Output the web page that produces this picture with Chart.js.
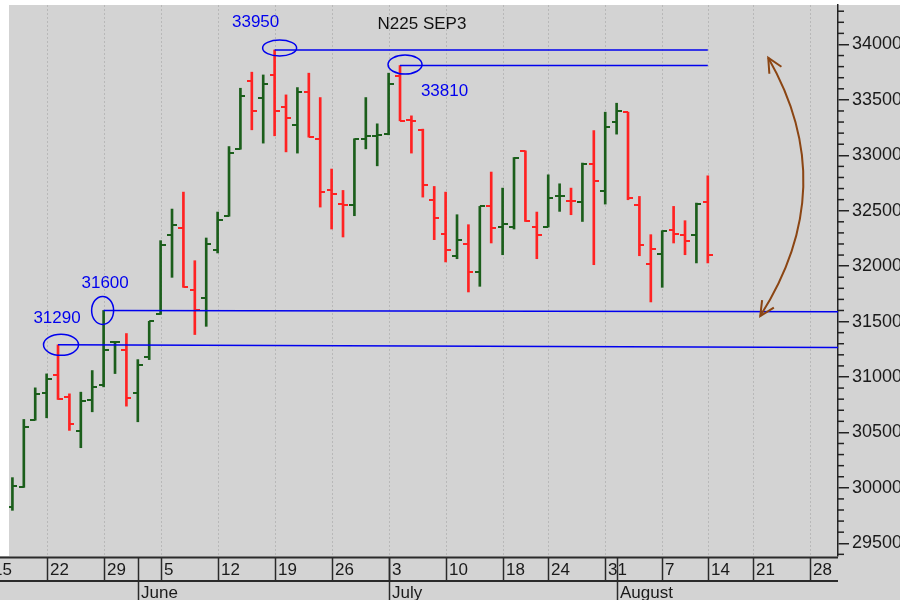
<!DOCTYPE html>
<html>
<head>
<meta charset="utf-8">
<script src="https://cdn.jsdelivr.net/npm/chart.js@4.4.0/dist/chart.umd.min.js"></script>
<style>
  html, body { margin: 0; padding: 0; background: #fff; }
  #wrap { width: 900px; height: 600px; }
</style>
</head>
<body>
<div id="wrap"><canvas id="chart" width="900" height="600"></canvas></div>
<script>
// N225 SEP3 daily OHLC, trading-day index 0 = May 17
const opens = [
  29827, 30007, 30614, 30860, 31016, 30821, 30511, 30794, 30932, 31315,
  31247, 30857, 31182, 31569, 32277, 32340, 31788, 31710, 32148, 32455,
  33061, 33674, 33515, 33725, 33440, 33272, 33569, 33146, 32689, 32563,
  32548, 33149, 33175, 33191, 33716, 33320, 33230, 32599, 32290, 32094,
  32200, 31944, 32539, 32353, 32353, 33040, 32353, 32353, 32630, 32590,
  32575, 32923, 32680, 33299, 33389, 32548, 32020, 32110, 32329, 32277,
  32277, 32575
];
const highs = [
  30092, 30617, 30902, 31028, 31290, 30848, 30863, 31058, 31600, 31320,
  31392, 31157, 31502, 32230, 32515, 32668, 32049, 32254, 32488, 33079,
  33605, 33750, 33725, 33950, 33545, 33611, 33741, 33521, 32876, 32683,
  33149, 33521, 33284, 33741, 33810, 33356, 33236, 32719, 32668, 32464,
  32374, 32539, 32849, 32704, 32980, 33040, 32488, 32824, 32743, 32704,
  32930, 33223, 33389, 33470, 33389, 32629, 32284, 32320, 32539, 32410,
  32569, 32815
];
const lows = [
  29797, 30004, 30610, 30632, 30797, 30518, 30362, 30686, 30911, 31031,
  30737, 30596, 31157, 31565, 31899, 31809, 31383, 31457, 32119, 32450,
  33055, 33230, 33110, 33176, 33031, 33020, 33164, 32533, 32335, 32263,
  32455, 33058, 32905, 33185, 33311, 33020, 32623, 32239, 32038, 32067,
  31767, 31818, 32209, 32103, 32335, 32403, 32067, 32353, 32494, 32464,
  32403, 32013, 32560, 33191, 32599, 32094, 31677, 31809, 32209, 32103,
  32029, 32029
];
const closes = [
  30019, 30547, 30848, 30986, 30803, 30578, 30782, 30911, 31241, 31320,
  30812, 31112, 31502, 32187, 32367, 31812, 31608, 32200, 32419, 33025,
  33539, 33401, 33644, 33401, 33335, 33569, 33164, 32665, 32653, 32550,
  33149, 33178, 33180, 33647, 33313, 33310, 32728, 32430, 32148, 32239,
  31944, 32539, 32344, 32380, 32975, 32410, 32277, 32614, 32635, 32585,
  32923, 32770, 33259, 33401, 32611, 32187, 32151, 32320, 32290, 32230,
  32563, 32097
];

// bottom axis: first trading day of each week, and month starts
const weekIdx    = [-2, 3, 8, 13, 18, 23, 28, 33, 38, 43, 47, 52, 57, 61, 65, 70];
const weekLabels = ['15', '22', '29', '5', '12', '19', '26', '3', '10', '18', '24', '31', '7', '14', '21', '28'];
const monthIdx    = [11, 33, 53];
const monthLabels = ['June', 'July', 'August'];

// price axis labels
const priceTicks = [29500, 30000, 30500, 31000, 31500, 32000, 32500, 33000, 33500, 34000];

// marked levels
const levelIdx    = [4, 8, 23, 34];
const levelValues = [31290, 31600, 33950, 33810];

const BG = '#d3d3d3';
const GREEN = '#1b5e1b';
const RED = '#ff2222';
const BLUE = '#0000ee';
const BROWN = '#8b4513';
const FONT = "'Liberation Sans', Arial, sans-serif";

// colour by close vs previous close
const barColors = closes.map((c, i) => (i > 0 && c < closes[i - 1]) ? RED : GREEN);

function tickImg(color, left) {
  const c = document.createElement('canvas');
  c.width = 10; c.height = 2;
  const g = c.getContext('2d');
  g.fillStyle = color;
  g.fillRect(left ? 0 : 5, 0, 5, 2);
  return c;
}
const openImg = { [GREEN]: tickImg(GREEN, true), [RED]: tickImg(RED, true) };
const closeImg = { [GREEN]: tickImg(GREEN, false), [RED]: tickImg(RED, false) };

const framePlugin = {
  id: 'frame',
  beforeDraw(chart) {
    const ctx = chart.ctx, a = chart.chartArea, xs = chart.scales.x;
    ctx.save();
    ctx.fillStyle = '#fff';
    ctx.fillRect(0, 0, 900, 600);
    ctx.fillStyle = BG;
    ctx.fillRect(a.left, a.top, a.right - a.left, a.bottom - a.top);
    ctx.fillRect(a.right, a.top, 900 - a.right, 600 - a.top);
    ctx.fillRect(0, a.bottom, a.right, 600 - a.bottom);
    // dotted weekly grid
    ctx.strokeStyle = '#b8b8b8';
    ctx.lineWidth = 1;
    ctx.setLineDash([2, 2]);
    weekIdx.forEach(i => {
      const x = Math.round(xs.getPixelForValue(i)) + 0.5;
      if (x < a.left || x > a.right) return;
      ctx.beginPath(); ctx.moveTo(x, a.top); ctx.lineTo(x, a.bottom); ctx.stroke();
    });
    ctx.restore();
  },
  afterDatasetsDraw(chart) {
    const ctx = chart.ctx, xs = chart.scales.x, ys = chart.scales.y;
    ctx.save();
    // ellipses round the marked levels
    const rad = [[17.5, 10.5], [11, 14], [17, 8], [17, 9.5]];
    const off = [[3, 0], [-1, 0], [5, -2], [5, -1]];
    const lab = [[-4, -27], [2.5, -27], [-24, -26], [39.5, 27]];
    ctx.strokeStyle = BLUE;
    ctx.lineWidth = 1.5;
    ctx.fillStyle = BLUE;
    ctx.font = '17px ' + FONT;
    ctx.textAlign = 'center';
    ctx.textBaseline = 'middle';
    levelIdx.forEach((i, k) => {
      const cx = xs.getPixelForValue(i) + off[k][0];
      const cy = ys.getPixelForValue(levelValues[k]) + off[k][1];
      ctx.beginPath();
      ctx.ellipse(cx, cy, rad[k][0], rad[k][1], 0, 0, Math.PI * 2);
      ctx.stroke();
      ctx.fillText(String(levelValues[k]), cx + lab[k][0], cy + lab[k][1]);
    });
    // title
    ctx.fillStyle = '#111';
    ctx.fillText('N225 SEP3', 422, 24);

    // brown double-headed arrow
    const p0 = { x: xs.getPixelForValue(66.3), y: ys.getPixelForValue(33880) };
    const c1 = { x: xs.getPixelForValue(72.8), y: ys.getPixelForValue(32714) };
    const p2 = { x: xs.getPixelForValue(65.6), y: ys.getPixelForValue(31550) };
    ctx.strokeStyle = BROWN;
    ctx.lineWidth = 2;
    ctx.beginPath();
    ctx.moveTo(p0.x, p0.y);
    ctx.quadraticCurveTo(c1.x, c1.y, p2.x, p2.y);
    ctx.stroke();
    function head(tip, from) {
      const ang = Math.atan2(tip.y - from.y, tip.x - from.x);
      const L = 16, spread = 0.45;
      ctx.beginPath();
      ctx.moveTo(tip.x - L * Math.cos(ang - spread), tip.y - L * Math.sin(ang - spread));
      ctx.lineTo(tip.x, tip.y);
      ctx.lineTo(tip.x - L * Math.cos(ang + spread), tip.y - L * Math.sin(ang + spread));
      ctx.stroke();
    }
    head(p0, c1);
    head(p2, c1);
    ctx.restore();
  },
  afterDraw(chart) {
    const ctx = chart.ctx, a = chart.chartArea, xs = chart.scales.x, ys = chart.scales.y;
    ctx.save();
    // minor ticks on the price axis
    ctx.strokeStyle = '#222';
    ctx.lineWidth = 1.5;
    for (let v = 29400; v <= 34300; v += 100) {
      if (v % 500 === 0) continue;
      const y = ys.getPixelForValue(v);
      if (y < a.top || y > a.bottom) continue;
      ctx.beginPath(); ctx.moveTo(a.right, y); ctx.lineTo(a.right + 6, y); ctx.stroke();
    }
    // date axis
    ctx.beginPath();
    ctx.rect(0, a.bottom, a.right, 600 - a.bottom);
    ctx.clip();
    const top = a.bottom + 1.5, mid = a.bottom + 25;
    ctx.strokeStyle = '#2a2a2a';
    ctx.lineWidth = 2;
    ctx.beginPath();
    ctx.moveTo(0, top); ctx.lineTo(a.right, top);
    ctx.moveTo(0, mid); ctx.lineTo(a.right, mid);
    ctx.stroke();
    ctx.lineWidth = 1.5;
    weekIdx.forEach(i => {
      const x = Math.round(xs.getPixelForValue(i)) + 0.5;
      ctx.beginPath(); ctx.moveTo(x, top); ctx.lineTo(x, mid); ctx.stroke();
    });
    monthIdx.forEach(i => {
      const x = Math.round(xs.getPixelForValue(i)) + 0.5;
      ctx.beginPath(); ctx.moveTo(x, top); ctx.lineTo(x, 600); ctx.stroke();
    });
    ctx.fillStyle = '#1a1a1a';
    ctx.font = '17px ' + FONT;
    ctx.textAlign = 'left';
    ctx.textBaseline = 'middle';
    weekIdx.forEach((i, k) => {
      ctx.fillText(weekLabels[k], Math.round(xs.getPixelForValue(i)) + 3, a.bottom + 14);
    });
    monthIdx.forEach((i, k) => {
      ctx.fillText(monthLabels[k], Math.round(xs.getPixelForValue(i)) + 3, a.bottom + 37);
    });
    ctx.restore();
  }
};

new Chart(document.getElementById('chart'), {
  type: 'bar',
  data: {
    datasets: [
      {
        type: 'line',
        data: [{ x: 23, y: 33950 }, { x: 61, y: 33950 }],
        borderColor: BLUE, borderWidth: 1.5, pointRadius: 0, fill: false
      },
      {
        type: 'line',
        data: [{ x: 34, y: 33810 }, { x: 61, y: 33810 }],
        borderColor: BLUE, borderWidth: 1.5, pointRadius: 0, fill: false
      },
      {
        type: 'line',
        data: [{ x: 8, y: 31600 }, { x: 72.42, y: 31588 }],
        borderColor: BLUE, borderWidth: 1.5, pointRadius: 0, fill: false
      },
      {
        type: 'line',
        data: [{ x: 4, y: 31290 }, { x: 72.42, y: 31265 }],
        borderColor: BLUE, borderWidth: 1.5, pointRadius: 0, fill: false
      },
      {
        type: 'bar',
        data: highs.map((h, i) => ({ x: i, y: [lows[i], h] })),
        backgroundColor: ctx => barColors[ctx.dataIndex],
        barThickness: 2,
        grouped: false
      },
      {
        type: 'scatter',
        data: opens.map((o, i) => ({ x: i, y: o })),
        pointStyle: ctx => openImg[barColors[ctx.dataIndex]] || openImg[GREEN],
        pointRadius: 3
      },
      {
        type: 'scatter',
        data: closes.map((c, i) => ({ x: i, y: c })),
        pointStyle: ctx => closeImg[barColors[ctx.dataIndex]] || closeImg[GREEN],
        pointRadius: 3
      }
    ]
  },
  options: {
    responsive: false,
    animation: false,
    events: [],
    layout: { padding: { top: 5, left: 9, bottom: 44, right: 0 } },
    plugins: { legend: { display: false }, tooltip: { enabled: false } },
    scales: {
      x: { type: 'linear', min: -0.3, max: 72.42, offset: false, display: false },
      y: {
        position: 'right',
        min: 29385,
        max: 34356,
        afterFit: s => { s.width = 62; s.paddingTop = 0; s.paddingBottom = 0; },
        afterBuildTicks: s => { s.ticks = priceTicks.map(v => ({ value: v })); },
        border: { display: true, color: '#222', width: 1.5 },
        grid: { drawOnChartArea: false, drawTicks: true, tickLength: 11, color: '#222', lineWidth: 1.5 },
        ticks: {
          padding: 3,
          color: '#1a1a1a',
          font: { family: FONT, size: 18 },
          callback: v => String(v)
        }
      }
    }
  },
  plugins: [framePlugin]
});
</script>
</body>
</html>
